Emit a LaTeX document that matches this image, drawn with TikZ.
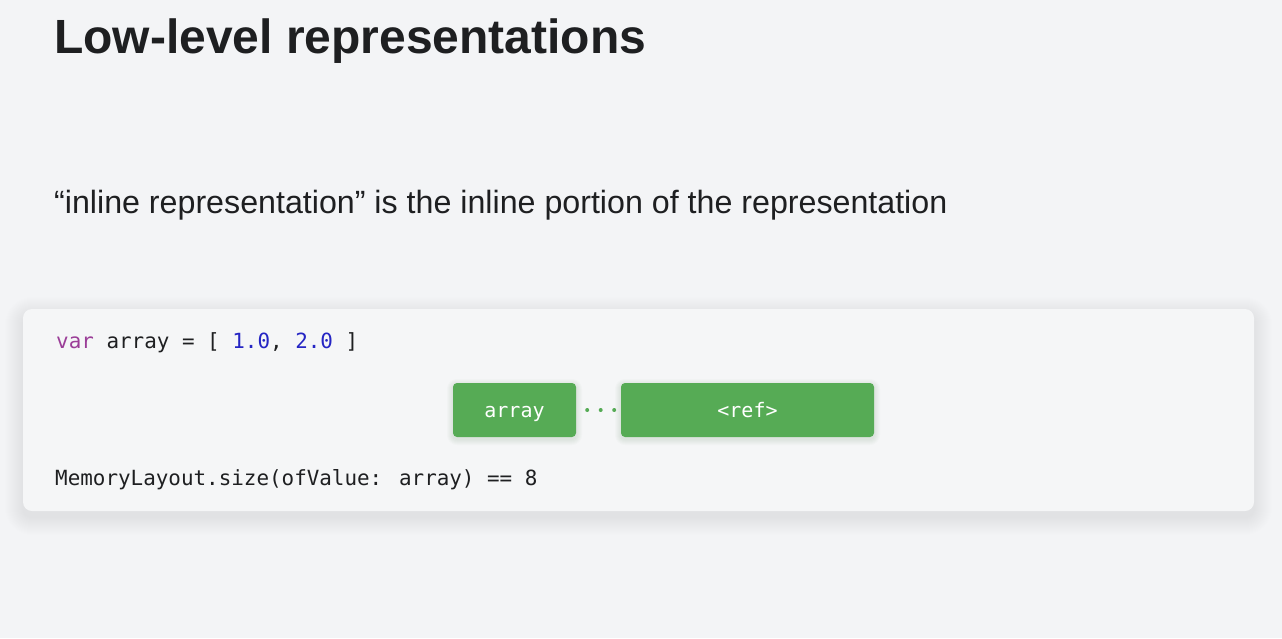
\documentclass[tikz,border=0pt]{standalone}
\usepackage{fontspec}
\setmainfont{Liberation Sans}
\newfontfamily\codefont{DejaVu Sans Mono}
\newfontfamily\headfont{Liberation Sans}
\definecolor{bg}{HTML}{F3F4F6}
\definecolor{card}{HTML}{F5F6F7}
\definecolor{ink}{HTML}{1E1F21}
\definecolor{boxgreen}{HTML}{56AB55}
\definecolor{kwpurple}{HTML}{9B3E98}
\definecolor{numblue}{HTML}{2525C4}
\tikzset{
  codetext/.style={anchor=base west, inner sep=0pt, font=\codefont\fontsize{20.9}{24}\selectfont, text=ink},
  membox/.style={fill=boxgreen, rounded corners=4pt, minimum height=54pt, inner sep=0pt,
    text=white, font=\codefont\fontsize{20}{24}\selectfont, text height=14pt, text depth=0pt},
  dotlink/.style={draw=boxgreen, line width=4pt, line cap=round, dash pattern=on 0pt off 13.5pt}
}
\begin{document}
\begin{tikzpicture}[x=1pt,y=-1pt]
\fill[bg] (0,0) rectangle (1282,638);
\useasboundingbox (0,0) rectangle (1282,638);
\node[anchor=base west, inner sep=0pt, font=\headfont\bfseries\fontsize{48}{52}\selectfont, text=ink] (title) at (54,53) {Low-level representations};
\node[anchor=base west, inner sep=0pt, font=\fontsize{32.2}{36}\selectfont, text=ink] (sub) at (54,213) {“inline representation” is the inline portion of the representation};
% soft card shadow
\foreach \r in {1,...,18}{
  \fill[black, opacity=0.005, rounded corners=9pt+\r pt] (23-\r,309-\r+6) rectangle (1254+\r,511+\r+6);
}
\fill[card, rounded corners=9pt] (23,309) rectangle (1254,511);
\node[codetext] (code1) at (56,348) {\textcolor{kwpurple}{var} array = [ \textcolor{numblue}{1.0}, \textcolor{numblue}{2.0} ]};
\node[codetext] (code2) at (55,485) {MemoryLayout.size(ofValue: array) == 8};
% soft box shadows
\foreach \r in {1,...,6}{
  \fill[boxgreen!60!black, opacity=0.02, rounded corners=4pt+\r pt] (453-\r,383-\r+2) rectangle (576+\r,437+\r+2);
  \fill[boxgreen!60!black, opacity=0.02, rounded corners=4pt+\r pt] (621-\r,383-\r+2) rectangle (874+\r,437+\r+2);
}
\node[membox, minimum width=123pt] (arr) at (514.5,410) {array};
\node[membox, minimum width=253pt] (ref) at (747.5,410) {<ref>};
\draw[dotlink] ([xshift=11pt]arr.east) -- (ref.west);
\end{tikzpicture}
\end{document}
